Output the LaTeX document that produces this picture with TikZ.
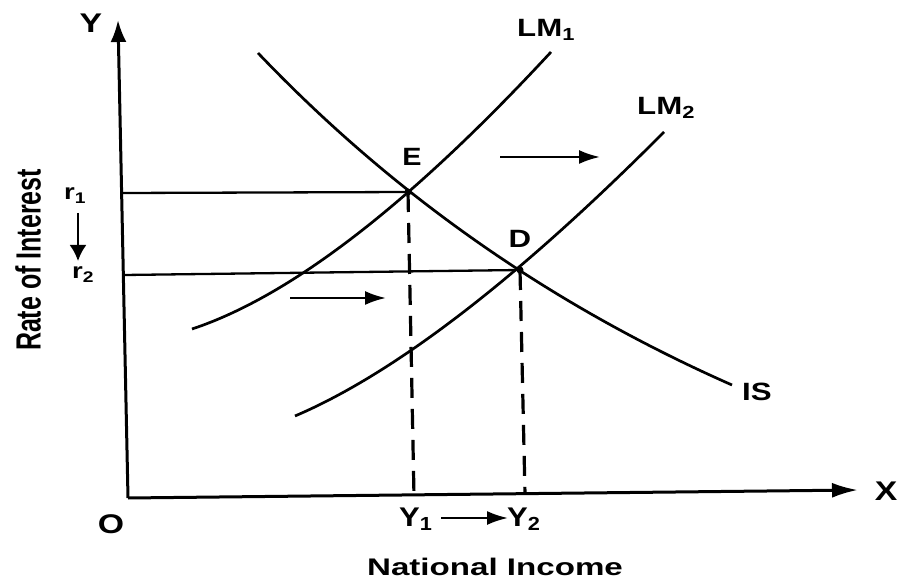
\documentclass[tikz,border=0pt]{standalone}
\usepackage{fontspec}
\setmainfont{Liberation Sans}
\usetikzlibrary{arrows.meta}
\newcommand{\widetxt}[2][1.25]{\scalebox{#1}[1]{#2}}
\begin{document}
\begin{tikzpicture}[x=1pt,y=-1pt,
  curve/.style={line width=2.7pt},
  axisy/.style={line width=3pt,-{Latex[length=22pt,width=16pt]}},
  axisx/.style={line width=3pt,-{Latex[length=26pt,width=15pt]}},
  guide/.style={line width=2.3pt},
  vdash/.style={line width=3.2pt,dash pattern=on 20pt off 11pt},
  shiftarrow/.style={line width=2.4pt,-{Latex[length=21pt,width=14pt]}},
  downarrow/.style={line width=2.4pt,-{Latex[length=16pt,width=17pt]}},
  lab/.style={inner sep=0pt,font=\bfseries\fontsize{25}{27}\selectfont},
  big/.style={inner sep=0pt,font=\bfseries\fontsize{27}{29}\selectfont},
  small/.style={inner sep=0pt,font=\bfseries\fontsize{22}{24}\selectfont}]
\useasboundingbox (0,0) rectangle (898,580);
% axes
\coordinate (O) at (128,498);
\coordinate (Ytop) at (118,20);
\coordinate (Xend) at (858,490);
\draw[axisy] (O) -- (Ytop);
\draw[axisx] (O) -- (Xend);
\node[big,anchor=base] (Ylab) at (91,33) {\widetxt{Y}};
\node[big,anchor=base] (Xlab) at (886,500) {\widetxt{X}};
\node[big,anchor=base] (Olab) at (111,533) {\widetxt{O}};
% points
\coordinate (E) at (408,192);
\coordinate (D) at (520,270);
\coordinate (r1) at (123,193);
\coordinate (r2) at (124,275);
\coordinate (y1) at (414,496);
\coordinate (y2) at (525,494);
% guide lines
\draw[guide] (r1) -- (E);
\draw[guide] (r2) -- (D);
\draw[vdash] (E) -- (y1);
\draw[vdash] (D) -- (y2);
% curves
\coordinate (lm1a) at (192,329);
\coordinate (lm1b) at (551,52);
\coordinate (lm2a) at (295,416);
\coordinate (lm2b) at (664,132);
\coordinate (isa) at (258,53);
\coordinate (isb) at (732,385);
\draw[curve] (lm1a) .. controls (290.7,296.3) and (410.3,204) .. (lm1b);
\draw[curve] (lm2a) .. controls (395,373.3) and (518,278.7) .. (lm2b);
\draw[curve] (isa) .. controls (392.7,194.3) and (550.7,305) .. (isb);
\fill (E) circle (3.5pt);
\fill (D) circle (3.5pt);
% labels
\node[lab,anchor=base west] (LM1) at (517,37) {\widetxt{LM\textsubscript{1}}};
\node[lab,anchor=base west] (LM2) at (637,115) {\widetxt{LM\textsubscript{2}}};
\node[lab,anchor=base] (IS) at (757,400) {\widetxt{IS}};
\node[lab,anchor=base] (Elab) at (412,166) {\widetxt[1.15]{E}};
\node[lab,anchor=base] (Dlab) at (520,248) {\widetxt{D}};
% shift arrows
\coordinate (a1s) at (500,157);
\coordinate (a1e) at (600,157);
\coordinate (a2s) at (290,298);
\coordinate (a2e) at (386,298);
\draw[shiftarrow] (a1s) -- (a1e);
\draw[shiftarrow] (a2s) -- (a2e);
% r labels
\node[small,anchor=base west] (r1lab) at (64,200) {\widetxt{r\textsubscript{1}}};
\node[small,anchor=base west] (r2lab) at (72,279) {\widetxt{r\textsubscript{2}}};
\coordinate (ra) at (78,213);
\coordinate (rb) at (78,261);
\draw[downarrow] (ra) -- (rb);
% Y labels
\node[big,anchor=base west] (Y1lab) at (399,526) {\widetxt[1.15]{Y\textsubscript{1}}};
\node[big,anchor=base west] (Y2lab) at (507,526) {\widetxt[1.15]{Y\textsubscript{2}}};
\coordinate (ys) at (441,518);
\coordinate (ye) at (508,518);
\draw[shiftarrow] (ys) -- (ye);
% axis titles
\node[inner sep=0pt,font=\bfseries\fontsize{25}{27}\selectfont,rotate=90] (rate) at (28,260) {\scalebox{1.0}[1.4]{Rate of Interest}};
\node[inner sep=0pt,font=\bfseries\fontsize{24}{26}\selectfont,anchor=base] (ni) at (495,575) {\scalebox{1.38}[1]{National Income}};
\end{tikzpicture}
\end{document}
